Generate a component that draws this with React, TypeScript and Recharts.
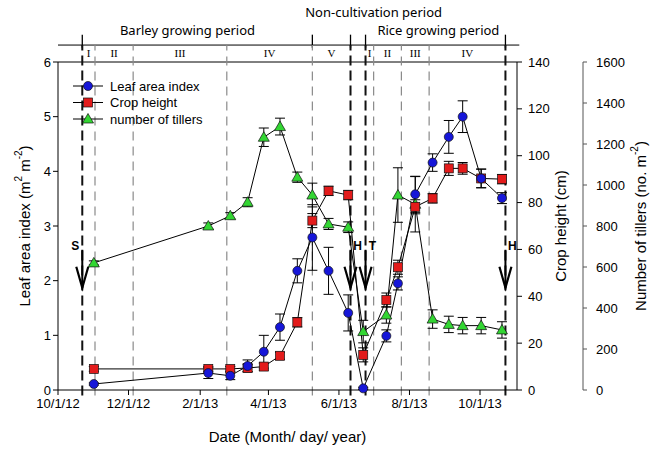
import React from 'react';
import {
  ComposedChart,
  Line,
  XAxis,
  YAxis,
  ErrorBar,
  ReferenceLine,
  ReferenceDot,
  Legend,
} from 'recharts';

// sampling dates, days after 10/1/12
const sampleDays = [31, 130, 149, 164, 178, 192, 207, 220, 234, 251, 264, 284, 294, 309, 324, 338, 350, 366, 384];
const leafAreaIndex = [0.11, 0.31, 0.26, 0.44, 0.7, 1.15, 2.18, 2.79, 2.18, 1.41, 0.03, 0.99, 1.95, 3.58, 4.16, 4.63, 5.0, 3.87, 3.51];
const leafAreaIndexSd = [0.02, 0.1, 0.07, 0.11, 0.3, 0.24, 0.22, 0.6, 0.43, 0.33, 0.02, 0.11, 0.12, 0.33, 0.16, 0.3, 0.29, 0.17, 0.1];
const cropHeight = [9, 9, 9, 9.4, 10, 14.6, 28.9, 72.3, 85, 83.2, 15, 38.4, 52.4, 78.2, 81.8, 94.6, 94.6, 90.3, 90];
const cropHeightSd = [1, 1, 1, 1.5, 1.5, 1.5, 2, 3, 2, 2, 3, 3, 3, 3, 2, 3, 2.5, 4, 2];
const tillers = [620, 800, 850, 916, 1233, 1285, 1038, 951, 810, 794, 285, 366, 951, 906, 346, 320, 314, 314, 293];
const tillersSd = [10, 15, 15, 22, 45, 41, 25, 58, 27, 26, 55, 40, 133, 135, 45, 40, 40, 40, 40];

const dateTicks = [0, 61, 123, 182, 243, 304, 365];
const dateTickLabels = ['10/1/12', '12/1/12', '2/1/13', '4/1/13', '6/1/13', '8/1/13', '10/1/13'];
const laiTicks = [0, 1, 2, 3, 4, 5, 6];
const heightTicks = [0, 20, 40, 60, 80, 100, 120, 140];
const tillerTicks = [0, 200, 400, 600, 800, 1000, 1200, 1400, 1600];

// sowing / harvest / transplanting events
const eventDays = [21, 253, 266, 387];
const eventLabels = ['S', 'H', 'T', 'H'];
const eventLabelSide = [-1, 1, 1, 1];

// growth stages
const stageStarts = [21, 32, 65, 146, 220, 266, 273, 297, 321];
const stageEnds = [32, 65, 146, 220, 253, 273, 297, 321, 387];
const stageLabels = ['I', 'II', 'III', 'IV', 'V', 'I', 'II', 'III', 'IV'];
const stageLines = [32, 65, 146, 220, 273, 297, 321];
const headerTallTicks = [21, 220, 253, 266, 387];

const periodLabels = ['Barley growing period', 'Non-cultivation period', 'Rice growing period'];
const periodCenters = [112, 273, 329];
const periodUpper = [false, true, false];

const chartData = sampleDays.map((day, i) => ({
  day,
  lai: leafAreaIndex[i],
  laiSd: leafAreaIndexSd[i],
  height: cropHeight[i],
  heightSd: cropHeightSd[i],
  tillers: tillers[i],
  tillersSd: tillersSd[i],
}));

const FONT = '"Liberation Sans", Arial, sans-serif';
const BLUE = '#1616d8';
const RED = '#e31b1b';
const GREEN = '#33d633';
const X_MAX = 397;
const HEADER_LINE = 6.31;
const HEADER_TICK_TOP = 6.5;
const STAGE_TEXT_Y = 6.16;
const ARROW_TIP = 1.87;

const circleMark = (cx: number, cy: number) => (
  <circle cx={cx} cy={cy} r={4.5} fill={BLUE} stroke="#111" strokeWidth={0.7} />
);
const squareMark = (cx: number, cy: number) => (
  <rect x={cx - 4.5} y={cy - 4.5} width={9} height={9} fill={RED} stroke="#111" strokeWidth={0.7} />
);
const triangleMark = (cx: number, cy: number) => (
  <polygon
    points={`${cx},${cy - 5.5} ${cx - 5.5},${cy + 4} ${cx + 5.5},${cy + 4}`}
    fill={GREEN}
    stroke="#111"
    strokeWidth={0.7}
  />
);

const dotWith = (mark: (cx: number, cy: number) => React.ReactElement, name: string) => (props: any) => (
  <g key={`${name}-${props.index}`}>{mark(props.cx, props.cy)}</g>
);

function AxisTitle({ viewBox, offsetX, parts }: any) {
  const cx = viewBox.x + offsetX;
  const cy = viewBox.y + viewBox.height / 2;
  return (
    <text
      x={cx}
      y={cy}
      transform={`rotate(-90, ${cx}, ${cy})`}
      textAnchor="middle"
      dominantBaseline="central"
      fontSize={15}
      fontFamily={FONT}
      fill="#000"
    >
      {parts.map((p: [string, boolean], i: number) =>
        p[1] ? (
          <tspan key={i} dy={-6} fontSize={10}>
            {p[0]}
          </tspan>
        ) : (
          <tspan key={i} dy={i > 0 && parts[i - 1][1] ? 6 : 0}>
            {p[0]}
          </tspan>
        ),
      )}
    </text>
  );
}

const legendItems = [
  { label: 'Leaf area index', mark: circleMark },
  { label: 'Crop height', mark: squareMark },
  { label: 'number of tillers', mark: triangleMark },
];

function LegendBox() {
  return (
    <svg width={160} height={52} style={{ overflow: 'visible' }}>
      {legendItems.map((item, i) => {
        const y = 8 + i * 16.5;
        return (
          <g key={item.label}>
            <line x1={5} x2={35} y1={y} y2={y} stroke="#000" strokeWidth={1} />
            {item.mark(20, y)}
            <text x={42} y={y + 4.5} fontSize={13} fontFamily={FONT} fill="#000">
              {item.label}
            </text>
          </g>
        );
      })}
    </svg>
  );
}

function ArrowShape({ cx, cy, letter, side }: any) {
  return (
    <g>
      <line x1={cx} y1={cy - 38} x2={cx} y2={cy} stroke="#000" strokeWidth={2} />
      <polyline
        points={`${cx - 6},${cy - 21} ${cx},${cy} ${cx + 6},${cy - 21}`}
        fill="none"
        stroke="#000"
        strokeWidth={2.2}
      />
      <text
        x={cx + side * 7}
        y={cy - 38}
        textAnchor="middle"
        fontSize={12}
        fontWeight="bold"
        fontFamily={FONT}
        fill="#000"
      >
        {letter}
      </text>
    </g>
  );
}

export default function App() {
  const tick = { fill: '#000', fontSize: 13, fontFamily: FONT };
  return (
    <div style={{ position: 'absolute', left: 0, top: 0, background: '#fff' }}>
      <ComposedChart
        width={660}
        height={453}
        data={chartData}
        margin={{ top: 62, right: 5, bottom: 5, left: 0 }}
      >
        <XAxis
          dataKey="day"
          type="number"
          domain={[0, X_MAX]}
          ticks={dateTicks}
          tickFormatter={(v: number) => dateTickLabels[dateTicks.indexOf(v)]}
          tick={tick}
          tickSize={5}
          tickMargin={4}
          height={58}
          axisLine={{ stroke: '#000' }}
          tickLine={{ stroke: '#000' }}
          label={{ value: 'Date (Month/ day/ year)', position: 'insideBottom', offset: 6, fill: '#000', fontSize: 15, fontFamily: FONT }}
        />
        <YAxis
          yAxisId="lai"
          orientation="left"
          domain={[0, 6]}
          ticks={laiTicks}
          width={58}
          tick={tick}
          tickSize={5}
          tickMargin={2}
          axisLine={{ stroke: '#000' }}
          tickLine={{ stroke: '#000' }}
          label={<AxisTitle offsetX={24} parts={[['Leaf area index (m', false], ['2', true], [' m', false], ['-2', true], [')', false]]} />}
        />
        <YAxis
          yAxisId="height"
          orientation="right"
          domain={[0, 140]}
          ticks={heightTicks}
          width={66}
          tick={tick}
          tickSize={5}
          tickMargin={6}
          axisLine={{ stroke: '#000' }}
          tickLine={{ stroke: '#000' }}
          label={<AxisTitle offsetX={43} parts={[['Crop height (cm)', false]]} />}
        />
        <YAxis
          yAxisId="tillers"
          orientation="right"
          domain={[0, 1600]}
          ticks={tillerTicks}
          width={72}
          tick={tick}
          tickSize={4}
          tickMargin={9}
          axisLine={{ stroke: '#555' }}
          tickLine={{ stroke: '#555' }}
          label={<AxisTitle offsetX={57} parts={[['Number of tillers (no. m', false], ['-2', true], [')', false]]} />}
        />

        {/* frame and header */}
        <ReferenceLine yAxisId="lai" y={6} stroke="#000" strokeWidth={1} ifOverflow="visible" />
        <ReferenceLine
          yAxisId="lai"
          segment={[{ x: 0, y: HEADER_LINE }, { x: X_MAX + 2, y: HEADER_LINE }]}
          stroke="#000"
          strokeWidth={1}
          ifOverflow="visible"
        />
        {headerTallTicks.map((d) => (
          <ReferenceLine
            key={`tt-${d}`}
            yAxisId="lai"
            segment={[{ x: d, y: HEADER_LINE - 0.05 }, { x: d, y: HEADER_TICK_TOP }]}
            stroke="#000"
            strokeWidth={1.3}
            ifOverflow="visible"
          />
        ))}
        {stageLines.map((d) => (
          <ReferenceLine
            key={`sl-${d}`}
            yAxisId="lai"
            segment={[{ x: d, y: -0.1 }, { x: d, y: HEADER_LINE }]}
            stroke="#8a8a8a"
            strokeWidth={1.2}
            strokeDasharray="9 6"
            ifOverflow="visible"
          />
        ))}
        {eventDays.map((d) => (
          <ReferenceLine
            key={`ev-${d}`}
            yAxisId="lai"
            segment={[{ x: d, y: -0.1 }, { x: d, y: HEADER_LINE }]}
            stroke="#111"
            strokeWidth={2}
            strokeDasharray="10 5"
            ifOverflow="visible"
          />
        ))}
        {stageLabels.map((s, i) => (
          <ReferenceDot
            key={`st-${i}`}
            yAxisId="lai"
            x={(stageStarts[i] + stageEnds[i]) / 2}
            y={STAGE_TEXT_Y}
            r={0}
            ifOverflow="visible"
            shape={(p: any) => (
              <text x={p.cx} y={p.cy + 4} textAnchor="middle" fontSize={11} fontFamily='"Liberation Serif", serif' fill="#000">
                {s}
              </text>
            )}
          />
        ))}
        {periodLabels.map((s, i) => (
          <ReferenceDot
            key={`pl-${i}`}
            yAxisId="lai"
            x={periodCenters[i]}
            y={periodUpper[i] ? 6.91 : 6.57}
            r={0}
            ifOverflow="visible"
            shape={(p: any) => (
              <text x={p.cx} y={p.cy + 4.5} textAnchor="middle" fontSize={13} fontFamily='"Noto Sans", sans-serif' fill="#000">
                {s}
              </text>
            )}
          />
        ))}
        {eventDays.map((d, i) => (
          <ReferenceDot
            key={`ar-${i}`}
            yAxisId="lai"
            x={d}
            y={ARROW_TIP}
            r={0}
            ifOverflow="visible"
            shape={(p: any) => <ArrowShape cx={p.cx} cy={p.cy} letter={eventLabels[i]} side={eventLabelSide[i]} />}
          />
        ))}

        <Line
          yAxisId="tillers"
          dataKey="tillers"
          stroke="#000"
          strokeWidth={1}
          isAnimationActive={false}
          dot={dotWith(triangleMark, 'tl')}
          activeDot={false}
        >
          <ErrorBar dataKey="tillersSd" direction="y" width={5} stroke="#000" strokeWidth={1} />
        </Line>
        <Line
          yAxisId="height"
          dataKey="height"
          stroke="#000"
          strokeWidth={1}
          isAnimationActive={false}
          dot={dotWith(squareMark, 'ch')}
          activeDot={false}
        >
          <ErrorBar dataKey="heightSd" direction="y" width={5} stroke="#000" strokeWidth={1} />
        </Line>
        <Line
          yAxisId="lai"
          dataKey="lai"
          stroke="#000"
          strokeWidth={1}
          isAnimationActive={false}
          dot={dotWith(circleMark, 'la')}
          activeDot={false}
        >
          <ErrorBar dataKey="laiSd" direction="y" width={5} stroke="#000" strokeWidth={1} />
        </Line>

        <Legend
          layout="vertical"
          align="center"
          verticalAlign="middle"
          wrapperStyle={{ left: 68, top: 78, width: 160 }}
          content={() => <LegendBox />}
        />
      </ComposedChart>
    </div>
  );
}
